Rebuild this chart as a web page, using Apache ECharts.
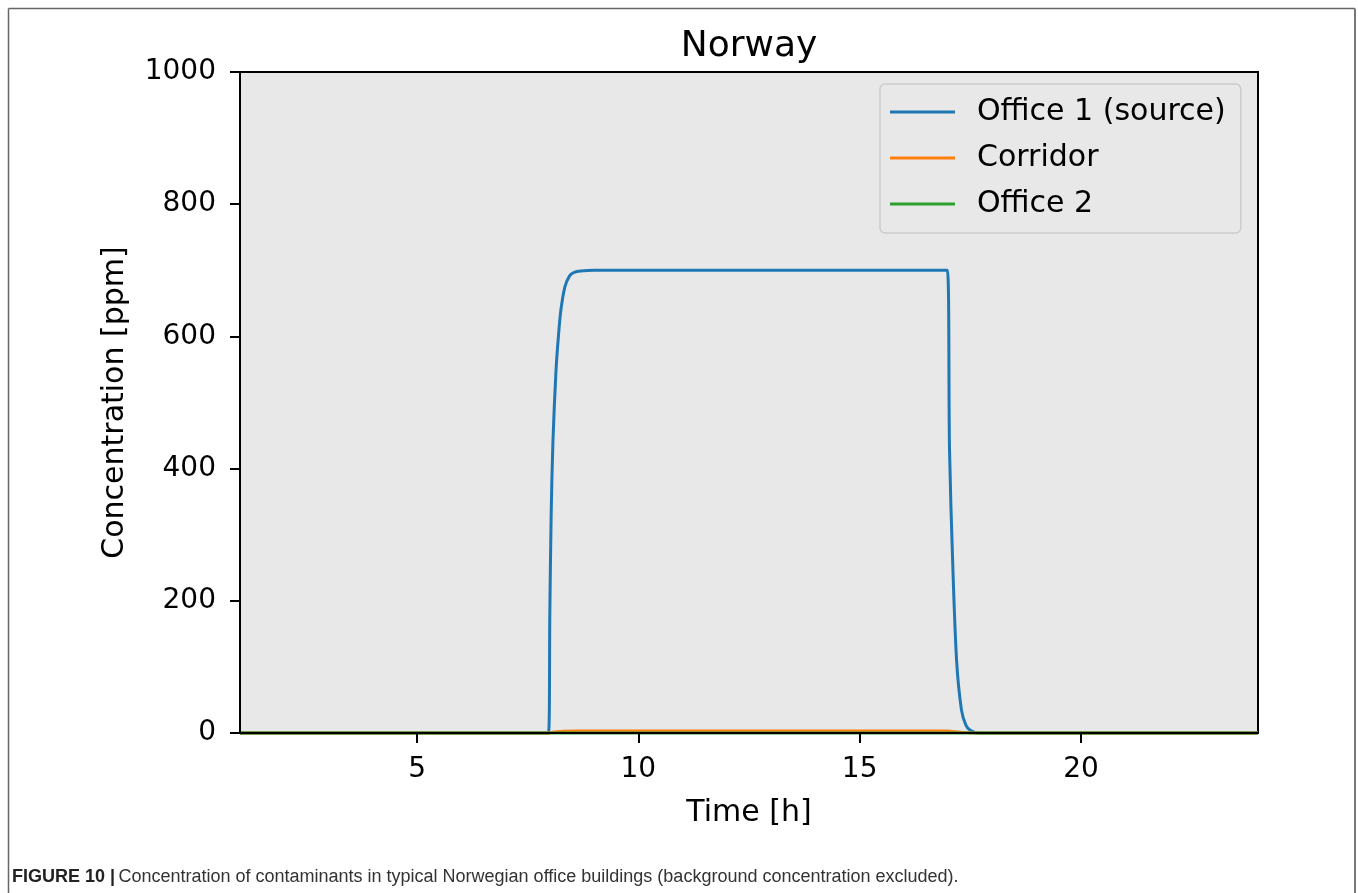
<!DOCTYPE html>
<html>
<head>
<meta charset="utf-8">
<script src="https://cdn.jsdelivr.net/npm/echarts@6/dist/echarts.min.js"></script>
<style>
html,body{margin:0;padding:0;background:#fff;}
#chart{width:1358px;height:893px;}
</style>
</head>
<body>
<div id="chart"></div>
<script>
// ---- data ----
const seriesNames = ['Office 1 (source)', 'Corridor', 'Office 2'];
const office1Time = [1, 7.97, 8.0, 8.03, 8.07, 8.14, 8.2, 8.25, 8.34, 8.45, 8.55, 8.7, 9.0, 16.98, 17.03, 17.1, 17.19, 17.3, 17.4, 17.5, 17.67, 18, 24];
const office1Vals = [0, 0, 180, 330, 440, 549, 605, 640, 675, 692, 697, 699, 700, 700, 430, 262, 110, 35, 12, 4, 0, 0, 0];
const corridorTime = [1, 7.97, 8.1, 8.3, 8.6, 16.98, 17.1, 17.3, 17.5, 17.8, 24];
const corridorVals = [0, 0, 1.5, 2.6, 3, 3, 2.4, 1.2, 0.4, 0, 0];
const office2Time = [1, 7.97, 8.5, 17.0, 17.6, 24];
const office2Vals = [0, 0, 0.1, 0.1, 0, 0];
const xTickValues = [5, 10, 15, 20];
const yTickStep = 200;
const colors = ['#1f77b4', '#ff7f0e', '#2ca02c'];

const pairs = (t, v) => t.map((x, i) => [x, v[i]]);

const chart = echarts.init(document.getElementById('chart'), null, {renderer: 'canvas'});
const font = 'DejaVu Sans';
const option = {
  animation: false,
  backgroundColor: '#ffffff',
  title: {
    text: 'Norway',
    left: 744,
    top: 24,
    textAlign: 'center',
    textStyle: {fontFamily: font, fontSize: 36, fontWeight: 'normal', color: '#000'}
  },
  grid: {
    left: 240, top: 72, width: 1018, height: 661,
    show: true, backgroundColor: '#e8e8e8', borderColor: '#000', borderWidth: 2
  },
  legend: {
    orient: 'vertical',
    left: 880, top: 84,
    padding: [11, 15, 12, 10],
    itemGap: 12,
    itemWidth: 65, itemHeight: 3,
    icon: 'rect',
    backgroundColor: '#e8e8e8',
    borderColor: '#cccccc', borderWidth: 1.5, borderRadius: 5,
    textStyle: {fontFamily: font, fontSize: 30, color: '#000', lineHeight: 34, padding: [0, 0, 0, 17]},
    data: seriesNames
  },
  xAxis: {
    type: 'value', min: 1, max: 24, z: 5,
    name: 'Time [h]', nameLocation: 'middle', nameGap: 65,
    nameTextStyle: {fontFamily: font, fontSize: 30, color: '#000'},
    axisLine: {show: true, lineStyle: {color: '#000', width: 2}},
    axisTick: {show: true, length: 10, lineStyle: {color: '#000', width: 2}, customValues: xTickValues},
    axisLabel: {fontFamily: font, fontSize: 28, color: '#000', margin: 23, customValues: xTickValues},
    splitLine: {show: false}
  },
  yAxis: {
    type: 'value', min: 0, max: 1000, interval: yTickStep, z: 5,
    name: 'Concentration [ppm]', nameLocation: 'middle', nameGap: 110,
    nameTextStyle: {fontFamily: font, fontSize: 30, color: '#000'},
    axisLine: {show: true, lineStyle: {color: '#000', width: 2}},
    axisTick: {show: true, length: 10, lineStyle: {color: '#000', width: 2}},
    axisLabel: {fontFamily: font, fontSize: 28, color: '#000', margin: 24, formatter: v => String(v)},
    splitLine: {show: false}
  },
  series: [
    {name: seriesNames[0], type: 'line', data: pairs(office1Time, office1Vals), symbol: 'none', smooth: 0.3, clip: false,
     lineStyle: {color: colors[0], width: 3}, itemStyle: {color: colors[0]}, z: 2},
    {name: seriesNames[1], type: 'line', data: pairs(corridorTime, corridorVals), symbol: 'none', clip: false,
     lineStyle: {color: colors[1], width: 3}, itemStyle: {color: colors[1]}, z: 3},
    {name: seriesNames[2], type: 'line', data: pairs(office2Time, office2Vals), symbol: 'none', clip: false,
     lineStyle: {color: colors[2], width: 3}, itemStyle: {color: colors[2]}, z: 4}
  ],
  graphic: [
    {type: 'line', shape: {x1: 8.5, y1: 8.5, x2: 1355, y2: 8.5}, style: {stroke: '#666', lineWidth: 1.5}, silent: true},
    {type: 'line', shape: {x1: 8.5, y1: 8.5, x2: 8.5, y2: 893}, style: {stroke: '#666', lineWidth: 1.5}, silent: true},
    {type: 'line', shape: {x1: 1355, y1: 8.5, x2: 1355, y2: 893}, style: {stroke: '#777', lineWidth: 2}, silent: true},
    {type: 'text', left: 12, top: 868,
     style: {
       text: '{b|FIGURE 10 |} {r|Concentration of contaminants in typical Norwegian office buildings (background concentration excluded).}',
       rich: {
         b: {fontFamily: '"Liberation Sans Narrow", "Liberation Sans", Arial', fontWeight: 'bold', fontSize: 18, fill: '#222'},
         r: {fontFamily: '"Liberation Sans Narrow", "Liberation Sans", Arial', fontSize: 18, fill: '#333'}
       }
     }}
  ]
};
chart.setOption(option);
</script>
</body>
</html>
